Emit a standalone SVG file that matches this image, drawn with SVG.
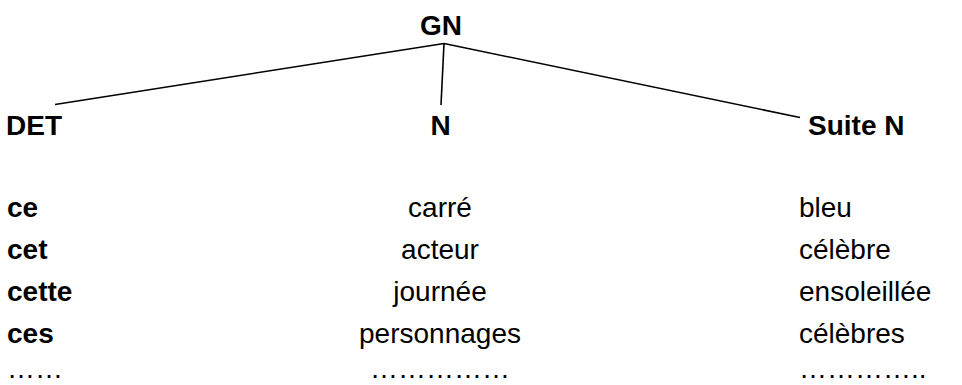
<svg xmlns="http://www.w3.org/2000/svg" width="962" height="385" viewBox="0 0 962 385">
<style>
text{font-family:"Liberation Sans",Arial,Helvetica,sans-serif;font-size:28px;fill:#000}
.b{font-weight:bold}
.m{text-anchor:middle}
.edge{stroke:#000;stroke-width:1.6;fill:none}
</style>
<rect width="962" height="385" fill="#fff"/>
<g id="connectors">
<line class="edge" x1="444" y1="43.5" x2="55" y2="104.5"/>
<line class="edge" x1="444" y1="43.5" x2="441" y2="105"/>
<line class="edge" x1="444" y1="43.5" x2="800" y2="117.5"/>
</g>
<g id="GN"><text class="b m" x="441" y="35">GN</text></g>
<g id="DET"><text class="b" x="6" y="135">DET</text></g>
<g id="N"><text class="b m" x="440.5" y="135">N</text></g>
<g id="SuiteN"><text class="b" x="808" y="135">Suite N</text></g>
<g id="col-det">
<text class="b" x="7" y="217">ce</text>
<text class="b" x="7" y="259">cet</text>
<text class="b" x="7" y="301">cette</text>
<text class="b" x="7" y="343">ces</text>
<text x="7" y="378">……</text>
</g>
<g id="col-n">
<text class="m" x="440" y="217">carré</text>
<text class="m" x="440" y="259">acteur</text>
<text class="m" x="440" y="301">journée</text>
<text class="m" x="440" y="343">personnages</text>
<text class="m" x="440" y="378">……………</text>
</g>
<g id="col-suite">
<text x="799" y="217">bleu</text>
<text x="799" y="259">célèbre</text>
<text x="799" y="301">ensoleillée</text>
<text x="799" y="343">célèbres</text>
<text x="799" y="378">…………..</text>
</g>
</svg>
